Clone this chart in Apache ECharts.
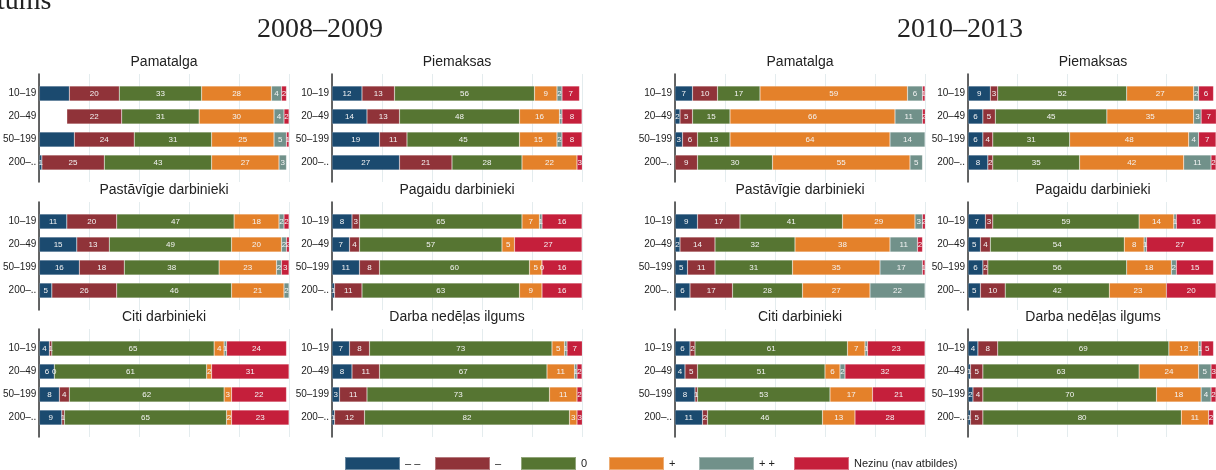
<!DOCTYPE html>
<html>
<head>
    <meta charset="utf-8" />
    <script src="https://cdn.jsdelivr.net/npm/echarts@6/dist/echarts.min.js"></script>
    <style>
        html, body { margin: 0; padding: 0; background: #fff; }
        #main { width: 1216px; height: 470px; }
    </style>
</head>
<body>
    <div id="main"></div>
    <script type="text/javascript">
        // categories and answer levels
        const ROWS = ['10–19', '20–49', '50–199', '200–..'];
        const LEVELS = ['– –', '–', '0', '+', '+ +', 'Nezinu (nav atbildes)'];
        const COLORS = ['#1b4a6f', '#903339', '#567532', '#e4812a', '#71918a', '#c51f3b'];

        // 2008–2009, one row per enterprise size, values in LEVELS order ('-' = no bar)
        const pamatalga08 = [[12, 20, 33, 28, 4, 2], [11, 22, 31, 30, 4, 2], [14, 24, 31, 25, 5, 1], [1, 25, 43, 27, 3, '-']];
        const piemaksas08 = [[12, 13, 56, 9, 2, 7], [14, 13, 48, 16, 1, 8], [19, 11, 45, 15, 2, 8], [27, 21, 28, 22, '-', 3]];
        const pastavigie08 = [[11, 20, 47, 18, 2, 2], [15, 13, 49, 20, 2, 2], [16, 18, 38, 23, 2, 3], [5, 26, 46, 21, 2, '-']];
        const pagaidu08 = [[8, 3, 65, 7, 1, 16], [7, 4, 57, 5, '-', 27], [11, 8, 60, 5, 0, 16], [1, 11, 63, 9, '-', 16]];
        const citi08 = [[4, 1, 65, 4, 1, 24], [6, 0, 61, 2, '-', 31], [8, 4, 62, 3, '-', 22], [9, 1, 65, 2, '-', 23]];
        const nedela08 = [[7, 8, 73, 5, 1, 7], [8, 11, 67, 11, 1, 2], [3, 11, 73, 11, '-', 2], [1, 12, 82, 3, '-', 3]];

        // 2010–2013
        const pamatalga10 = [[7, 10, 17, 59, 6, 1], [2, 5, 15, 66, 11, 2], [3, 6, 13, 64, 14, 1], ['-', 9, 30, 55, 5, '-']];
        const piemaksas10 = [[9, 3, 52, 27, 2, 6], [6, 5, 45, 35, 3, 7], [6, 4, 31, 48, 4, 7], [8, 2, 35, 42, 11, 2]];
        const pastavigie10 = [[9, 17, 41, 29, 3, 2], [2, 14, 32, 38, 11, 2], [5, 11, 31, 35, 17, 1], [6, 17, 28, 27, 22, '-']];
        const pagaidu10 = [[7, 3, 59, 14, 1, 16], [5, 4, 54, 8, 1, 27], [6, 2, 56, 18, 2, 15], [5, 10, 42, 23, '-', 20]];
        const citi10 = [[6, 2, 61, 7, 1, 23], [4, 5, 51, 6, 2, 32], [8, 1, 53, 17, '-', 21], [11, 2, 46, 13, '-', 28]];
        const nedela10 = [[4, 8, 69, 12, 1, 5], [1, 5, 63, 24, 5, 3], [2, 4, 70, 18, 4, 2], [1, 5, 80, 11, '-', 2]];

        // segments drawn without a label / not drawn at all: [panel, level, row]
        const unlabeled = [[0, 0, 0], [0, 0, 2]];
        const blank = [[0, 0, 1]];

        const panels = [
            { title: 'Pamatalga', data: pamatalga08, col: 0, row: 0 },
            { title: 'Piemaksas', data: piemaksas08, col: 1, row: 0 },
            { title: 'Pastāvīgie darbinieki', data: pastavigie08, col: 0, row: 1 },
            { title: 'Pagaidu darbinieki', data: pagaidu08, col: 1, row: 1 },
            { title: 'Citi darbinieki', data: citi08, col: 0, row: 2 },
            { title: 'Darba nedēļas ilgums', data: nedela08, col: 1, row: 2 },
            { title: 'Pamatalga', data: pamatalga10, col: 2, row: 0 },
            { title: 'Piemaksas', data: piemaksas10, col: 3, row: 0 },
            { title: 'Pastāvīgie darbinieki', data: pastavigie10, col: 2, row: 1 },
            { title: 'Pagaidu darbinieki', data: pagaidu10, col: 3, row: 1 },
            { title: 'Citi darbinieki', data: citi10, col: 2, row: 2 },
            { title: 'Darba nedēļas ilgums', data: nedela10, col: 3, row: 2 },
        ];

        const SANS = 'Liberation Sans, Arial, sans-serif';
        const SERIF = 'Liberation Serif, Times New Roman, serif';
        const colLeft = [39, 332, 675, 968];
        const rowTop = [74, 202, 329];
        const PW = 250, FRAME_H = 108;
        const legendLeft = [344, 434, 520, 608, 698, 793];

        const has = (list, p, s, r) => list.some(d => d[0] === p && d[1] === s && d[2] === r);

        var grid = [], xAxis = [], yAxis = [], series = [];
        var title = [
            { text: '2008–2009', left: 320, top: 16, textAlign: 'center', padding: 0,
              textStyle: { fontFamily: SERIF, fontSize: 28, fontWeight: 'normal', color: '#222' } },
            { text: '2010–2013', left: 960, top: 16, textAlign: 'center', padding: 0,
              textStyle: { fontFamily: SERIF, fontSize: 28, fontWeight: 'normal', color: '#222' } },
        ];

        panels.forEach((p, pi) => {
            const left = colLeft[p.col], top = rowTop[p.row];
            title.push({
                text: p.title, left: left + PW / 2, top: top - 19, textAlign: 'center', padding: 0,
                textStyle: { fontFamily: SANS, fontSize: 14, fontWeight: 'normal', color: '#222' }
            });
            // frame grid: axis line + vertical grid lines
            grid.push({ left: left, top: top, width: PW, height: FRAME_H });
            xAxis.push({
                gridIndex: 2 * pi, type: 'value', min: 0, max: 100, interval: 20,
                axisLine: { show: false }, axisTick: { show: false }, axisLabel: { show: false },
                splitLine: { show: true, lineStyle: { color: '#e4ecee', width: 1 } }
            });
            yAxis.push({
                gridIndex: 2 * pi, type: 'value', min: 0, max: 1,
                axisLine: { show: true, lineStyle: { color: '#333', width: 1.5 } },
                axisTick: { show: false }, axisLabel: { show: false }, splitLine: { show: false }
            });
            // bar grid
            grid.push({ left: left, top: top + 8, width: PW, height: FRAME_H - 16 });
            xAxis.push({ gridIndex: 2 * pi + 1, type: 'value', min: 0, max: 100, show: false });
            yAxis.push({
                gridIndex: 2 * pi + 1, type: 'category', data: ROWS, inverse: true,
                axisLine: { show: false }, axisTick: { show: false },
                axisLabel: { fontFamily: SANS, fontSize: 10, color: '#222', margin: 3 }
            });
            LEVELS.forEach((name, si) => {
                series.push({
                    type: 'bar', name: name, stack: 'p' + pi,
                    xAxisIndex: 2 * pi + 1, yAxisIndex: 2 * pi + 1,
                    barWidth: 15,
                    itemStyle: { color: COLORS[si], borderColor: 'rgba(255,255,255,0.35)', borderWidth: 0.5 },
                    label: { show: true, position: 'inside', color: '#f4f4f4', fontFamily: SANS, fontSize: 8 },
                    emphasis: { disabled: true },
                    data: p.data.map((r, ri) => {
                        const v = r[si];
                        if (has(blank, pi, si, ri)) return { value: v, itemStyle: { color: 'rgba(0,0,0,0)', borderWidth: 0 }, label: { show: false } };
                        if (has(unlabeled, pi, si, ri)) return { value: v, label: { show: false } };
                        return v;
                    })
                });
            });
        });

        var chart = echarts.init(document.getElementById('main'), null, { renderer: 'canvas' });
        chart.setOption({
            animation: false,
            title: title,
            grid: grid,
            xAxis: xAxis,
            yAxis: yAxis,
            legend: LEVELS.map((n, i) => ({
                data: [n], left: legendLeft[i], top: 456, padding: 0,
                itemWidth: 55, itemHeight: 13, icon: 'rect',
                textStyle: { fontFamily: SANS, fontSize: 11, color: '#222' }
            })),
            graphic: [{
                type: 'text', left: -3, top: -12, silent: true,
                style: { text: 'tums', font: '28px ' + SERIF, fill: '#222' }
            }],
            series: series
        });
    </script>
</body>
</html>
